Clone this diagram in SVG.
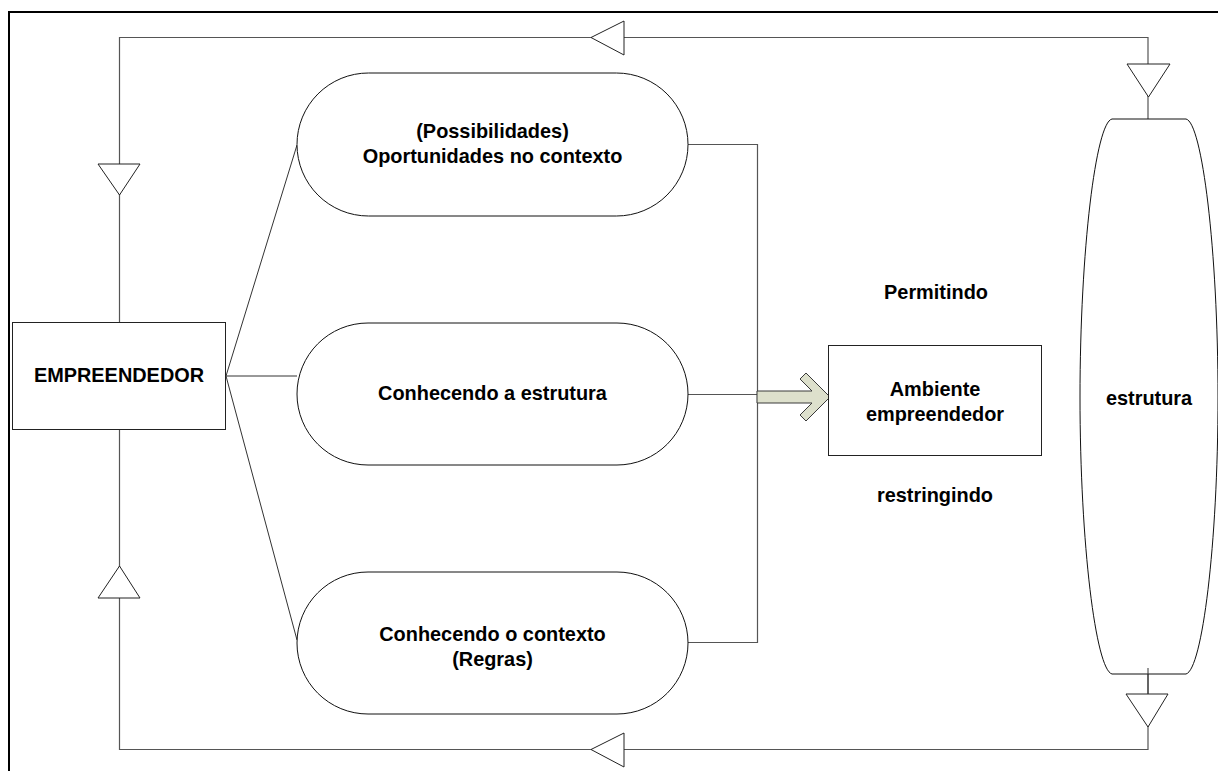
<svg xmlns="http://www.w3.org/2000/svg" width="1218" height="771" viewBox="0 0 1218 771">
  <style>
    .lbl { font-family: "Liberation Sans", Arial, sans-serif; font-weight: bold; font-size: 19.9px; fill: #000; text-anchor: middle; }
    .box { fill: #fff; stroke: #222; stroke-width: 1; }
    .pill { fill: #fff; stroke: #111; stroke-width: 1; }
    .wire { fill: none; stroke: #333; stroke-width: 1; }
    .loop { fill: none; stroke: #555; stroke-width: 1.2; }
    .tri { fill: #fff; stroke: #222; stroke-width: 1; stroke-linejoin: miter; }
  </style>

  <rect width="1218" height="771" fill="#fff"/>
  <!-- page frame -->
  <path d="M 9,780 L 9,12 L 1230,12" fill="none" stroke="#000" stroke-width="2"/>

  <g id="connectors">
    <!-- feedback loop around the whole figure -->
    <path class="loop" d="M 1148,119 L 1148,37.5 L 119.5,37.5 L 119.5,322"/>
    <path class="loop" d="M 119.5,430 L 119.5,749.5 L 1148,749.5 L 1148,668"/>
    <!-- entrepreneur to the three stadiums -->
    <line class="wire" x1="226" y1="376" x2="297" y2="145"/>
    <line class="wire" x1="226" y1="376" x2="297" y2="376"/>
    <line class="wire" x1="226" y1="376" x2="297" y2="640"/>
    <!-- stadiums collected on the right -->
    <path class="loop" d="M 688,144.5 L 757.5,144.5 L 757.5,642.5 L 688,642.5"/>
    <line class="loop" x1="688" y1="394.5" x2="757" y2="394.5"/>
    <!-- direction markers -->
    <polygon class="tri" points="624,21 591,37.5 624,55"/>
    <polygon class="tri" points="624,733 591,749.5 624,767"/>
    <polygon class="tri" points="98,164 140,164 119.5,195"/>
    <polygon class="tri" points="98,598 140,598 119.5,566"/>
    <polygon class="tri" points="1127,64 1170,64 1148.5,97"/>
    <polygon class="tri" points="1126,694 1168,694 1148,727"/>
    <!-- block arrow into the environment box -->
    <polygon points="757,391 812,391 800,379 806,373 830,397 806,421 800,415 812,403 757,403" fill="#dde0cc" stroke="#3a3a3a" stroke-width="1"/>
  </g>

  <g id="node-empreendedor">
    <rect class="box" x="12.5" y="322.5" width="213" height="107"/>
    <text class="lbl" x="119" y="382">EMPREENDEDOR</text>
  </g>

  <g id="node-oportunidades">
    <rect class="pill" x="297" y="73" width="391" height="143" rx="71.5" ry="71.5"/>
    <text class="lbl" x="492.5" y="138">(Possibilidades)</text>
    <text class="lbl" x="492.5" y="163">Oportunidades no contexto</text>
  </g>

  <g id="node-estrutura-conhecida">
    <rect class="pill" x="297" y="323" width="391" height="142" rx="71" ry="71"/>
    <text class="lbl" x="492.5" y="400">Conhecendo a estrutura</text>
  </g>

  <g id="node-contexto">
    <rect class="pill" x="297" y="572" width="391" height="142" rx="71" ry="71"/>
    <text class="lbl" x="492.5" y="641">Conhecendo o contexto</text>
    <text class="lbl" x="492.5" y="666">(Regras)</text>
  </g>

  <g id="node-ambiente">
    <rect class="box" x="828.5" y="345.5" width="213" height="110"/>
    <text class="lbl" x="935" y="396">Ambiente</text>
    <text class="lbl" x="935" y="421">empreendedor</text>
  </g>

  <g id="label-permitindo">
    <text class="lbl" x="936" y="299">Permitindo</text>
  </g>
  <g id="label-restringindo">
    <text class="lbl" x="935" y="502">restringindo</text>
  </g>

  <g id="node-estrutura">
    <path class="pill" d="M 1112,119 L 1186,119 C 1202,122 1218,250 1218,397 C 1218,545 1202,670 1186,674 L 1112,674 C 1096,670 1080,545 1080,397 C 1080,250 1096,122 1112,119 Z"/>
    <line class="wire" x1="1148" y1="668" x2="1148" y2="694"/>
    <text class="lbl" x="1149" y="405">estrutura</text>
  </g>
</svg>
